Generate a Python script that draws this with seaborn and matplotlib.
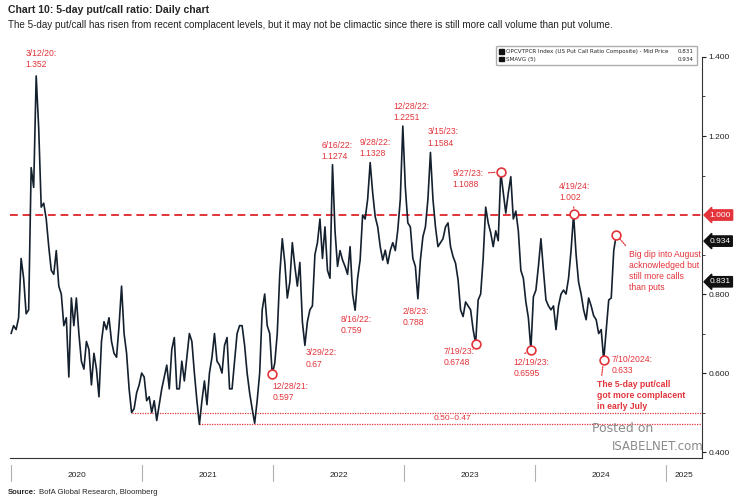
import matplotlib
matplotlib.use("Agg")
import matplotlib.pyplot as plt
import matplotlib.dates as mdates
import matplotlib.transforms as mtransforms
from matplotlib.patches import Patch
import seaborn as sns
import pandas as pd

# weekly readings of the 5-day SMA of the put/call ratio, first week 2020-01-01
pcr_2020 = [0.70, 0.72, 0.71, 0.74, 0.89, 0.84, 0.75, 0.76, 1.12, 1.07,
            1.352, 1.22, 1.02, 1.03, 0.99, 0.92, 0.86, 0.85, 0.91, 0.82,
            0.80, 0.72, 0.74, 0.59, 0.79, 0.72, 0.79, 0.70, 0.63, 0.61,
            0.68, 0.66, 0.57, 0.65, 0.61, 0.54, 0.68, 0.73, 0.71, 0.74,
            0.68, 0.65, 0.64, 0.72, 0.82, 0.70, 0.65, 0.56, 0.50, 0.51,
            0.55, 0.57]
pcr_2021 = [0.60, 0.59, 0.53, 0.54, 0.50, 0.53, 0.48, 0.52, 0.56, 0.59,
            0.62, 0.56, 0.66, 0.69, 0.56, 0.56, 0.63, 0.58, 0.64, 0.70,
            0.68, 0.60, 0.53, 0.47, 0.53, 0.58, 0.52, 0.60, 0.64, 0.70,
            0.63, 0.62, 0.60, 0.67, 0.69, 0.56, 0.56, 0.63, 0.70, 0.72,
            0.72, 0.67, 0.60, 0.55, 0.51, 0.473, 0.53, 0.60, 0.76, 0.80,
            0.72, 0.70]
pcr_2022 = [0.597, 0.625, 0.70, 0.85, 0.94, 0.88, 0.79, 0.83, 0.93, 0.87,
            0.82, 0.88, 0.73, 0.67, 0.73, 0.76, 0.77, 0.90, 0.93, 0.99,
            0.89, 0.97, 0.86, 0.84, 1.1274, 0.96, 0.87, 0.91, 0.886, 0.87,
            0.85, 0.92, 0.80, 0.759, 0.84, 0.886, 1.00, 0.99, 1.04, 1.1328,
            1.056, 0.996, 0.97, 0.92, 0.886, 0.911, 0.877, 0.91, 0.93, 0.91,
            0.962, 1.04]
pcr_2023 = [1.2251, 1.07, 0.98, 0.97, 0.89, 0.87, 0.788, 0.886, 0.945, 0.97,
            1.04, 1.1584, 1.04, 0.97, 0.92, 0.93, 0.94, 0.97, 0.98, 0.92,
            0.895, 0.878, 0.836, 0.76, 0.743, 0.78, 0.77, 0.76, 0.71, 0.6748,
            0.785, 0.80, 0.89, 1.02, 0.98, 0.955, 0.92, 0.96, 0.935, 1.1088,
            1.056, 1.005, 1.056, 1.097, 0.99, 1.01, 0.96, 0.86, 0.84, 0.78,
            0.74, 0.6595]
pcr_2024 = [0.793, 0.81, 0.87, 0.94, 0.86, 0.785, 0.77, 0.76, 0.77, 0.71,
            0.77, 0.80, 0.81, 0.80, 0.84, 0.91, 1.002, 0.90, 0.83, 0.80,
            0.76, 0.735, 0.79, 0.77, 0.745, 0.735, 0.70, 0.71, 0.633, 0.71,
            0.785, 0.79, 0.91, 0.95]
first_week = "2020-01-01"

# labelled highs / lows
ann_dates = ["2020-03-12", "2022-06-16", "2022-09-28", "2022-12-28", "2023-03-15",
             "2023-09-27", "2024-04-19", "2024-07-10", "2023-07-19", "2023-12-19",
             "2021-12-28", "2022-03-29", "2022-08-16", "2023-02-08"]
ann_values = [1.352, 1.1274, 1.1328, 1.2251, 1.1584,
              1.1088, 1.002, 0.633, 0.6748, 0.6595,
              0.597, 0.67, 0.759, 0.788]
ann_labels = ["3/12/20:\n1.352", "6/16/22:\n1.1274", "9/28/22:\n1.1328", "12/28/22:\n1.2251",
              "3/15/23:\n1.1584", "9/27/23:\n1.1088", "4/19/24:\n1.002", "7/10/2024:\n0.633",
              "7/19/23:\n0.6748", "12/19/23:\n0.6595", "12/28/21:\n0.597", "3/29/22:\n0.67",
              "8/16/22:\n0.759", "2/8/23:\n0.788"]
ann_circled = [False, False, False, False, False, True, True, True, True, True,
               True, False, False, False]

end_note = "Big dip into August\nacknowledged but\nstill more calls\nthan puts"
july_note = "The 5-day put/call\ngot more complacent\nin early July"

support_levels = [0.50, 0.47]
support_from = ["2020-12-02", "2021-06-09"]
support_label = "0.50\u20130.47"
threshold = 1.0
last_raw = 0.831
last_sma = 0.934
y_ticks = [0.4, 0.6, 0.8, 1.2, 1.4]
years = [2020, 2021, 2022, 2023, 2024, 2025]
legend_names = ["OPCVTPCR Index (US Put Call Ratio Composite) - Mid Price", "SMAVG (5)"]

title = "Chart 10: 5-day put/call ratio: Daily chart"
subtitle = ("The 5-day put/call has risen from recent complacent levels, but it may not be "
            "climactic since there is still more call volume than put volume.")

RED = "#e2343a"
LINE = "#14202e"

sns.set_style("white")
plt.rcParams["font.family"] = ["Liberation Sans", "DejaVu Sans"]

values = pcr_2020 + pcr_2021 + pcr_2022 + pcr_2023 + pcr_2024
df = pd.DataFrame({
    "date": pd.date_range(first_week, periods=len(values), freq="7D"),
    "pcr": values,
})

fig = plt.figure(figsize=(7.4, 5.0), dpi=100)
ax = fig.add_axes([10 / 740, 42 / 500, 692 / 740, 418 / 500])

sns.lineplot(data=df, x="date", y="pcr", color=LINE, lw=1.2, ax=ax)

x0, x1 = pd.Timestamp("2019-12-29"), pd.Timestamp("2025-04-10")
ax.set_xlim(x0, x1)
ax.set_ylim(0.385, 1.443)

# reference lines
ax.axhline(threshold, color=RED, lw=1.4, ls=(0, (4, 2.5)), zorder=1)
for lvl, start in zip(support_levels, support_from):
    ax.hlines(lvl, pd.Timestamp(start), x1, color=RED, lw=0.9, ls=(0, (1, 1)), zorder=1)
ax.text(pd.Timestamp("2023-03-25"), (support_levels[0] + support_levels[1]) / 2, support_label,
        color=RED, fontsize=6, va="center", ha="left")

# spines / ticks
ax.spines[["top", "left"]].set_visible(False)
ax.spines["right"].set_bounds(0.385, 1.4)
for s in ("right", "bottom"):
    ax.spines[s].set_color("#333333")
    ax.spines[s].set_linewidth(0.8)
ax.yaxis.tick_right()
ax.set_yticks(y_ticks)
ax.set_yticklabels([f"{v:.3f}" for v in y_ticks])
ax.set_yticks([0.5, 0.7, 0.9, 1.1, 1.3], minor=True)
ax.tick_params(axis="y", which="major", direction="out", length=3, width=0.8, pad=1.5,
               labelsize=6, colors="#222222")
ax.tick_params(axis="y", which="minor", direction="out", length=2, width=0.6)
ax.xaxis.set_major_locator(mdates.MonthLocator())
ax.xaxis.set_major_formatter(plt.NullFormatter())
ax.tick_params(axis="x", which="major", direction="inout", length=3, width=0.6, colors="#444444")
ax.set_xlabel("")
ax.set_ylabel("")
ax.grid(False)

# year labels + separators below the axis
for yr in years:
    left = max(pd.Timestamp(f"{yr}-01-01"), x0)
    right = min(pd.Timestamp(f"{yr + 1}-01-01"), x1)
    mid = left + (right - left) / 2
    ax.text(mid, -0.041, str(yr), transform=ax.get_xaxis_transform(),
            ha="center", va="center", fontsize=6, color="#222222")
    ax.axvline(pd.Timestamp(f"{yr}-01-01"), ymin=-0.055, ymax=-0.017, clip_on=False,
               color="#b0b0b0", lw=0.8)

# annotations (offsets in pixels from the labelled point)
ann_layout = [(-11, 27, None), (-11, 24, None), (-11, 25, None), (-9, 24, None),
              (-3, 25, None), (-48, 3, (1, 0.8)), (-15, 32, (0.45, 0)), (8, 5, None),
              (-32, -3, (1, 0.9)), (-17, -8, (0.15, 1)), (1, -8, None), (1, -3, None),
              (-14, -5, None), (-15, -8, None)]
for d, v, lab, (dx, dy, rel) in zip(ann_dates, ann_values, ann_labels, ann_layout):
    kw = {}
    if rel is not None:
        kw["arrowprops"] = dict(arrowstyle="-", ls=(0, (1, 1)), color=RED, lw=0.9,
                                relpos=rel, shrinkA=1, shrinkB=4)
    ax.annotate(lab, xy=(pd.Timestamp(d), v), xytext=(dx, dy), textcoords="offset pixels",
                ha="left", va="top", fontsize=6.2, color=RED, linespacing=1.3, **kw)

circ = [(pd.Timestamp(d), v) for d, v, c in zip(ann_dates, ann_values, ann_circled) if c]
circ.append((df["date"].iloc[-1], df["pcr"].iloc[-1]))
ax.scatter([c[0] for c in circ], [c[1] for c in circ], s=40, facecolors="white",
           edgecolors=RED, linewidths=1.2, zorder=5)

ax.annotate(end_note, xy=(df["date"].iloc[-1], df["pcr"].iloc[-1]), xytext=(13, -15),
            textcoords="offset pixels", ha="left", va="top", fontsize=6.2, color=RED,
            linespacing=1.3,
            arrowprops=dict(arrowstyle="-", ls=(0, (1, 1)), color=RED, lw=0.9,
                            relpos=(0, 1), shrinkA=1, shrinkB=4))
ax.annotate(july_note, xy=(pd.Timestamp(ann_dates[7]), ann_values[7]), xytext=(-7, -20),
            textcoords="offset pixels", ha="left", va="top", fontsize=6.2, color=RED,
            fontweight="bold", linespacing=1.3,
            arrowprops=dict(arrowstyle="-", ls=(0, (1, 1)), color=RED, lw=0.9,
                            relpos=(0.05, 1), shrinkA=1, shrinkB=4))

# value tags on the right axis
tag_tr = mtransforms.blended_transform_factory(ax.transAxes, ax.transData)
for val, bg in ((threshold, RED), (last_sma, "#111111"), (last_raw, "#111111")):
    ax.text(1.011, val, f"{val:.3f}", transform=tag_tr, ha="left", va="center",
            fontsize=6, color="white", clip_on=False,
            bbox=dict(boxstyle="larrow,pad=0.2", fc=bg, ec=bg))

# legend box
handles = [Patch(fc="#111111", ec="#111111"), Patch(fc="#111111", ec="#111111"),
           Patch(fc="none", ec="none"), Patch(fc="none", ec="none")]
labels = legend_names + [f"{last_raw:.3f}", f"{last_sma:.3f}"]
ax.legend(handles, labels, ncol=2, loc="upper right", bbox_to_anchor=(0.997, 0.993),
          frameon=True, fancybox=True, edgecolor="#999999",
          handlelength=0.8, handleheight=0.8, handletextpad=0.4, columnspacing=0.4,
          labelspacing=0.45, borderpad=0.6, prop={"family": "DejaVu Sans", "size": 4.1})

# header, source, watermark
fig.text(8 / 740, 1 - 10 / 500, title, fontsize=7.6, fontweight="bold", va="center")
fig.text(8 / 740, 1 - 25 / 500, subtitle, fontsize=7.1, va="center", color="#222222")
src = fig.text(8 / 740, 1 - 492 / 500, "Source:", fontsize=5.6, fontweight="bold", va="center")
fig.canvas.draw()
bb = src.get_window_extent()
fig.text(bb.x1 / 740 + 2 / 740, 1 - 492 / 500, "BofA Global Research, Bloomberg",
         fontsize=5.6, va="center")
fig.text(592 / 740, 1 - 428 / 500, "Posted on", fontsize=9, color="#8a8a8a",
         family="DejaVu Sans", va="center")
fig.text(612 / 740, 1 - 446 / 500, "ISABELNET.com", fontsize=8.5, color="#8a8a8a",
         family="DejaVu Sans", va="center")

fig.savefig("out.png", dpi=100, facecolor="white")
